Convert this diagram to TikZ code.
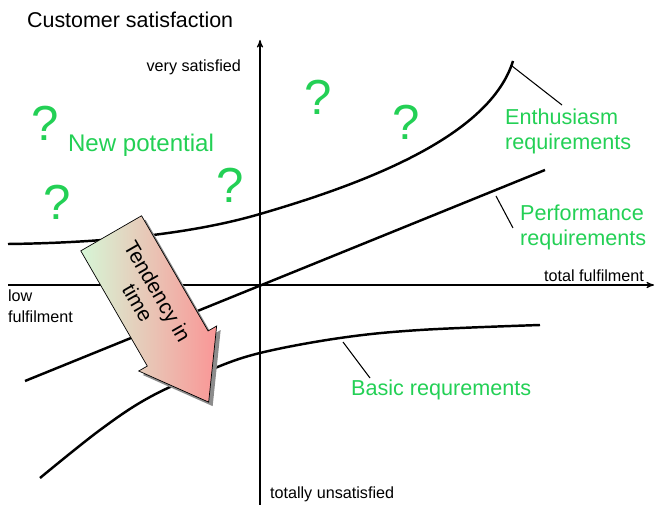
\documentclass[tikz,border=0pt]{standalone}
\usepackage{fontspec}
\setmainfont{Liberation Sans}
\usetikzlibrary{arrows, positioning, shapes}

\definecolor{reqgreen}{RGB}{35,208,85}
\definecolor{tailgreen}{RGB}{214,246,214}
\definecolor{tippink}{RGB}{250,150,150}

\tikzset{
  axis/.style      = {draw, line width=0.6pt, -stealth'},
  curve/.style     = {draw, line width=1.4pt},
  leader/.style    = {draw, line width=0.6pt},
  axislabel/.style = {font=\fontsize{9.2}{12}\selectfont, inner sep=1pt},
  title/.style     = {font=\fontsize{12.2}{14}\selectfont, inner sep=1pt},
  reqlabel/.style  = {text=reqgreen, font=\fontsize{12.3}{14.2}\selectfont, align=left, inner sep=1pt},
  guess/.style     = {text=reqgreen, font=\fontsize{28}{30}\selectfont, inner sep=0pt},
  tendency/.style  = {single arrow, rotate=-60, anchor=tail, minimum height=3.9cm, minimum width=1.8cm,
                      single arrow head extend=0.12cm, single arrow tip angle=72,
                      inner sep=1pt, align=center, font=\fontsize{12}{13}\selectfont},
}

\begin{document}
\begin{tikzpicture}[x=0.02cm, y=-0.02cm]

\useasboundingbox (0,0) rectangle (663,506);

\coordinate (xstart) at (8,285);
\coordinate (xend)   at (654,285);
\coordinate (ystart) at (260,505);
\coordinate (yend)   at (260,40);

\path [axis] (xstart) -- (xend);
\path [axis] (ystart) -- (yend);

\node [title    , anchor=west     ] (title) at (25,20)   {Customer satisfaction};
\node [axislabel, anchor=east     ] (vs)    at (243,67)  {very satisfied};
\node [axislabel, anchor=east     ] (tf)    at (646,276) {total fulfilment};
\node [axislabel, anchor=north west, align=left] (lf) at (6,288) {low\\fulfilment};
\node [axislabel, anchor=west     ] (tu)    at (268,494) {totally unsatisfied};

\path [curve] (8,244) .. controls (90,243) and (185,236) .. (260,214)
                      .. controls (370,182) and (490,135) .. (513,61);
\path [curve] (25,381) -- (545,170);
\path [curve] plot [smooth, tension=0.6] coordinates
  {(40,478) (100,430) (150,397) (210,370) (260,353) (340,338) (420,330) (540,325)};

\node [reqlabel, anchor=west] (enth)  at (503,131) {Enthusiasm\\requirements};
\node [reqlabel, anchor=west] (perf)  at (518,227) {Performance\\requirements};
\node [reqlabel, anchor=west] (basic) at (349,390) {Basic requrements};
\node [reqlabel, anchor=west, font=\fontsize{13.7}{16}\selectfont] (newp) at (66,145) {New potential};

\coordinate (enthfoot)  at (512,66);
\coordinate (enthend)   at (562,105);
\coordinate (perffoot)  at (496,196);
\coordinate (perfend)   at (513,228);
\coordinate (basicfoot) at (343,342);
\coordinate (basicend)  at (370,378);

\path [leader] (enthfoot)  -- (enthend);
\path [leader] (perffoot)  -- (perfend);
\path [leader] (basicfoot) -- (basicend);

\node [guess] (q1) at (45,123)  {?};
\node [guess] (q2) at (57,202)  {?};
\node [guess] (q3) at (318,97)  {?};
\node [guess] (q4) at (406,122) {?};
\node [guess] (q5) at (230,185) {?};

\node [tendency, fill=black!45                                  ] (tshadow) at (115,237) {\phantom{Tendency in}\\\phantom{time}};
\node [tendency, draw, left color=tailgreen, right color=tippink ] (tarrow)  at (111,233) {Tendency in\\time};

\end{tikzpicture}
\end{document}
